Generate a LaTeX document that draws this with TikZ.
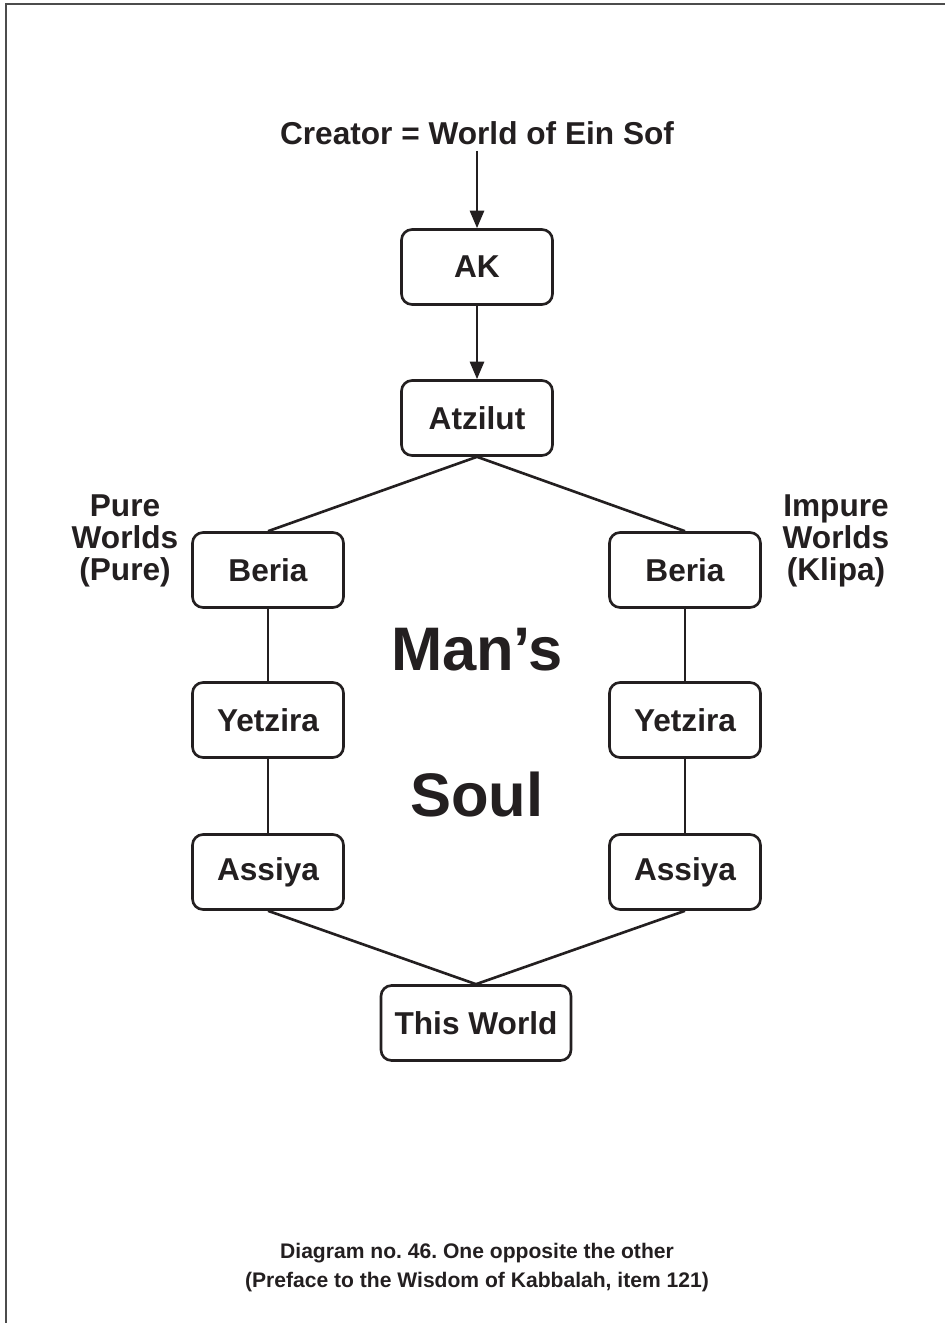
\documentclass[tikz,border=0pt]{standalone}
\usepackage{fontspec}
\setmainfont{Liberation Sans}
\usepackage{tikz}
\usetikzlibrary{arrows.meta, positioning}
\definecolor{ink}{RGB}{35,31,32}
\frenchspacing

\begin{document}
\begin{tikzpicture}[
    x=0.02cm, y=-0.02cm,
    every node/.style={font=\fontsize{18}{18}\selectfont\bfseries, text=ink},
    world/.style={rectangle, rounded corners=6pt, draw=ink, line width=1.5pt, fill=white, minimum width=3.02cm, minimum height=1.5cm, align=center},
    flow/.style={-{Triangle[length=10pt,width=8pt]}, line width=1.5pt, draw=ink},
    link/.style={line width=1.5pt, draw=ink},
    side/.style={align=center, font=\fontsize{18}{18}\selectfont\bfseries},
    soul/.style={font=\fontsize{35}{35}\selectfont\bfseries},
    caption/.style={align=center, font=\fontsize{12}{16.5}\selectfont\bfseries}
]
\useasboundingbox (0,0) rectangle (945,1323);

% Rahmen
\draw[black!70, line width=1pt] (6,1323) -- (6,4) -- (945,4);

% Titel und obere Welten
\node (creator) at (477,133) {Creator = World of Ein Sof};
\node[world] (ak) at (477,267) {AK};
\node[world] (atzilut) at (477,418) {Atzilut};

% Linke Seite (rein)
\node[world] (beriaL) at (268,570) {Beria};
\node[world] (yetziraL) at (268,720) {Yetzira};
\node[world] (assiyaL) at (268,872) {Assiya};
\node[side] (pure) at (125,541) {Pure\\Worlds\\(Pure)};

% Rechte Seite (unrein)
\node[world] (beriaR) at (685,570) {Beria};
\node[world] (yetziraR) at (685,720) {Yetzira};
\node[world] (assiyaR) at (685,872) {Assiya};
\node[side] (impure) at (836,541) {Impure\\Worlds\\(Klipa)};

% Mitte und unten
\node[soul] (mans) at (477,650) {Man’s};
\node[soul] (soul) at (477,795) {Soul};
\node[world, minimum width=3.8cm] (thisworld) at (476,1023) {This World};

% Verbindungen
\draw[flow] (creator.south) -- (ak.north);
\draw[flow] (ak.south) -- (atzilut.north);
\draw[link] (atzilut.south) -- (beriaL.north);
\draw[link] (atzilut.south) -- (beriaR.north);
\draw[link] (beriaL) -- (yetziraL);
\draw[link] (yetziraL) -- (assiyaL);
\draw[link] (beriaR) -- (yetziraR);
\draw[link] (yetziraR) -- (assiyaR);
\draw[link] (assiyaL.south) -- (thisworld.north);
\draw[link] (assiyaR.south) -- (thisworld.north);

% Bildunterschrift
\node[caption] (cap) at (477,1268) {Diagram no. 46. One opposite the other\\(Preface to the Wisdom of Kabbalah, item 121)};

\end{tikzpicture}
\end{document}
